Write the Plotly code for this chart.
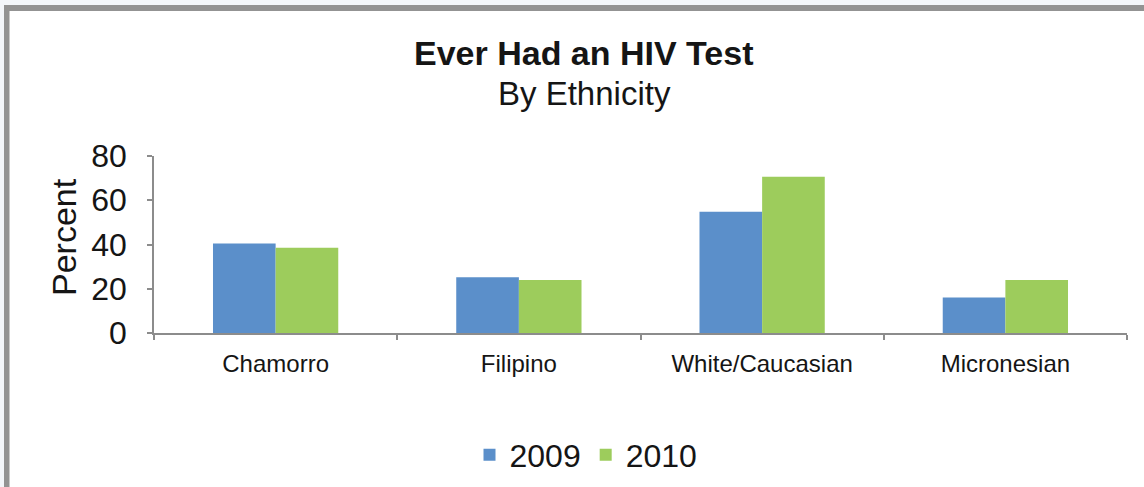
import plotly.graph_objects as go

categories = ["Chamorro", "Filipino", "White/Caucasian", "Micronesian"]
series_names = ["2009", "2010"]
values_2009 = [40.5, 25.2, 54.8, 16.0]
values_2010 = [38.5, 24.0, 70.6, 24.0]
y_ticks = [0, 20, 40, 60, 80]

W, H = 1144, 487
L, R, T, B = 154, 17, 156, 154
PW, PH = W - L - R, H - T - B

def px(x):
    return (x - L) / PW

def py(y):
    return (H - B - y) / PH

FONT = "Liberation Sans, Arial, sans-serif"
BLUE = "#5b8fca"
GREEN = "#9dcc5c"
AXIS = "#8c8c8c"
TXT = "#151515"

fig = go.Figure()
fig.add_trace(go.Bar(x=categories, y=values_2009, name=series_names[0],
                     marker=dict(color=BLUE, line=dict(width=0))))
fig.add_trace(go.Bar(x=categories, y=values_2010, name=series_names[1],
                     marker=dict(color=GREEN, line=dict(width=0))))

shapes = [
    dict(type="rect", xref="paper", yref="paper", x0=px(0), x1=px(W), y0=py(0), y1=py(5),
         fillcolor="#f3f6fa", line=dict(width=0), layer="below"),
    dict(type="rect", xref="paper", yref="paper", x0=px(0), x1=px(4), y0=py(0), y1=py(H),
         fillcolor="#f3f6fa", line=dict(width=0), layer="below"),
    dict(type="rect", xref="paper", yref="paper", x0=px(4), x1=px(W), y0=py(5), y1=py(11),
         fillcolor="#939393", line=dict(width=0), layer="below"),
    dict(type="rect", xref="paper", yref="paper", x0=px(4), x1=px(9.5), y0=py(5), y1=py(H),
         fillcolor="#939393", line=dict(width=0), layer="below"),
]

annotations = [
    dict(text="<b>Ever Had an HIV Test</b>", xref="paper", yref="paper",
         x=px(584), y=py(53), xanchor="center", yanchor="middle", showarrow=False,
         borderpad=0,
         font=dict(family=FONT, size=34, color=TXT)),
    dict(text="By Ethnicity", xref="paper", yref="paper",
         x=px(584), y=py(93), xanchor="center", yanchor="middle", showarrow=False,
         borderpad=0,
         font=dict(family=FONT, size=33, color=TXT)),
    dict(text="Percent", xref="paper", yref="paper", textangle=-90,
         x=px(64), y=py(237), xanchor="center", yanchor="middle", showarrow=False,
         font=dict(family=FONT, size=34, color=TXT)),
]

fig.update_layout(
    width=W, height=H,
    margin=dict(l=L, r=R, t=T, b=B, autoexpand=False),
    paper_bgcolor="white", plot_bgcolor="white",
    barmode="group", bargap=0.485, bargroupgap=0,
    shapes=shapes, annotations=annotations,
    showlegend=True,
    legend=dict(orientation="h", x=px(586), y=py(455), xanchor="center", yanchor="middle",
                font=dict(family=FONT, size=32, color=TXT),
                itemsizing="constant", traceorder="normal"),
    xaxis=dict(showline=True, linecolor=AXIS, linewidth=1.5, ticks="outside",
               tickson="boundaries", ticklen=5, tickcolor=AXIS, tickwidth=1.5,
               ticklabelstandoff=8,
               tickfont=dict(family=FONT, size=24, color=TXT),
               showgrid=False, zeroline=False),
    yaxis=dict(range=[0, 80], tickvals=y_ticks, showline=True, linecolor=AXIS, linewidth=1.5,
               ticks="outside", ticklen=5, tickcolor=AXIS, tickwidth=1.5,
               ticklabelstandoff=14,
               tickfont=dict(family=FONT, size=32, color=TXT),
               showgrid=False, zeroline=False),
)

fig.write_html("out.html", config={"displayModeBar": False},
               post_script="document.body.style.margin='0';")
